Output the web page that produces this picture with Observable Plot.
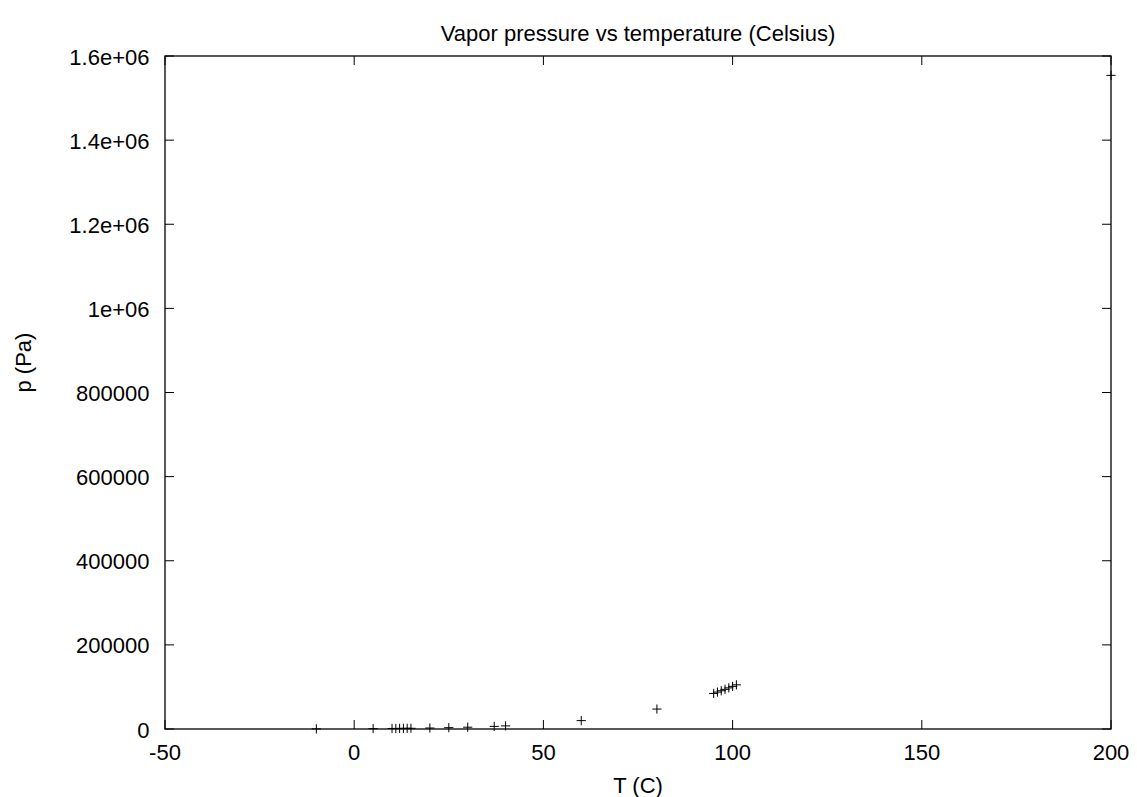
<!DOCTYPE html>
<html>
<head>
<meta charset="utf-8">
<script src="https://cdn.jsdelivr.net/npm/d3@7"></script>
<script src="https://cdn.jsdelivr.net/npm/@observablehq/plot@0.6"></script>
<style>
  html, body { margin: 0; padding: 0; background: #fff; }
</style>
</head>
<body>
<div id="chart"></div>
<script>
const temps = [-10, 5, 10, 11, 12, 13, 14, 15, 20, 25, 30, 37, 40, 60, 80, 95, 96, 97, 98, 99, 100, 101, 200];
const pressures = [260, 872, 1228, 1312, 1402, 1497, 1598, 1705, 2339, 3169, 4246, 6275, 7384, 19946, 47373, 84529, 87731, 90954, 94301, 97777, 101325, 104999, 1554000];
const xTicks = [-50, 0, 50, 100, 150, 200];
const xTickLabels = ["-50", "0", "50", "100", "150", "200"];
const yTicks = [0, 200000, 400000, 600000, 800000, 1000000, 1200000, 1400000, 1600000];
const yTickLabels = ["0", "200000", "400000", "600000", "800000", "1e+06", "1.2e+06", "1.4e+06", "1.6e+06"];
const title = "Vapor pressure vs temperature (Celsius)";
const xLabel = "T (C)";
const yLabel = "p (Pa)";

const data = temps.map((t, i) => ({t, p: pressures[i]}));

const TL = 9;
const plusSym = {draw(c) { const h = 4.6; c.moveTo(-h, 0); c.lineTo(h, 0); c.moveTo(0, -h); c.lineTo(0, h); }};
const tickUp = {draw(c) { c.moveTo(0, 0); c.lineTo(0, -TL); }};
const tickDown = {draw(c) { c.moveTo(0, 0); c.lineTo(0, TL); }};
const tickRight = {draw(c) { c.moveTo(0, 0); c.lineTo(TL, 0); }};
const tickLeft = {draw(c) { c.moveTo(0, 0); c.lineTo(-TL, 0); }};

const font = "'Liberation Sans', Arial, Helvetica, sans-serif";

const plot = Plot.plot({
  width: 1137,
  height: 797,
  marginLeft: 164.5,
  marginRight: 26.5,
  marginTop: 55.5,
  marginBottom: 68.5,
  style: {fontFamily: font, fontSize: "22px", color: "black", background: "white"},
  x: {domain: [-50, 200], axis: null},
  y: {domain: [0, 1600000], axis: null},
  marks: [
    Plot.dot(xTicks, {x: d => d, frameAnchor: "bottom", symbol: tickUp, fill: "none", stroke: "black", strokeWidth: 1}),
    Plot.dot(xTicks, {x: d => d, frameAnchor: "top", symbol: tickDown, fill: "none", stroke: "black", strokeWidth: 1}),
    Plot.dot(yTicks, {y: d => d, frameAnchor: "left", symbol: tickRight, fill: "none", stroke: "black", strokeWidth: 1}),
    Plot.dot(yTicks, {y: d => d, frameAnchor: "right", symbol: tickLeft, fill: "none", stroke: "black", strokeWidth: 1}),
    Plot.frame({stroke: "black", strokeWidth: 1.3}),
    Plot.text(xTicks, {x: d => d, text: (d, i) => xTickLabels[i], frameAnchor: "bottom", lineAnchor: "bottom", dy: 30.5, fill: "black"}),
    Plot.text(yTicks, {y: d => d, text: (d, i) => yTickLabels[i], frameAnchor: "left", textAnchor: "end", lineAnchor: "middle", dx: -15.5, dy: 1.5, fill: "black"}),
    Plot.dot(data, {x: "t", y: "p", symbol: plusSym, fill: "none", stroke: "black", strokeWidth: 1}),
    Plot.text([title], {text: d => d, frameAnchor: "top", lineAnchor: "bottom", dy: -15, fill: "black"}),
    Plot.text([xLabel], {text: d => d, frameAnchor: "bottom", lineAnchor: "bottom", dy: 63.5, fill: "black"}),
    Plot.text([yLabel], {text: d => d, frameAnchor: "left", rotate: -90, lineAnchor: "middle", dx: -141.5, fill: "black"})
  ]
});
document.getElementById("chart").appendChild(plot);
</script>
</body>
</html>
